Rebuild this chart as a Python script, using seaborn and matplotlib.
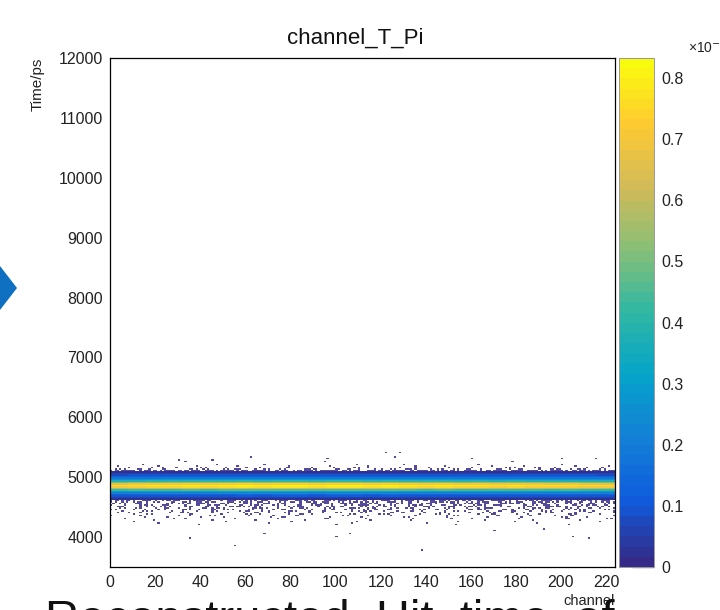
import numpy as np
import pandas as pd
import matplotlib
matplotlib.use("Agg")
import matplotlib.pyplot as plt
from matplotlib.colors import LinearSegmentedColormap, ListedColormap
from matplotlib.patches import Polygon
from matplotlib.ticker import MultipleLocator, FuncFormatter
import seaborn as sns

# ---------------- data ----------------
n_channels = 224
time_min, time_max, time_bin = 3500, 12000, 25

# band profile: density (x1e-3) per 25 ps time bin (lower edge)
band_time = [4625, 4650, 4675, 4700, 4725, 4750, 4775, 4800, 4825, 4850,
             4875, 4900, 4925, 4950, 4975, 5000, 5025, 5050, 5075]
band_value = [0.03, 0.06, 0.10, 0.15, 0.22, 0.32, 0.46, 0.63, 0.77, 0.82,
              0.72, 0.55, 0.40, 0.28, 0.19, 0.13, 0.09, 0.06, 0.03]

# relative gain per group of 8 channels
group_gain = [0.92, 0.95, 0.96, 0.97, 0.98, 0.97, 0.99, 1.00, 0.99, 1.00,
              1.00, 0.98, 1.00, 1.00, 0.99, 1.00, 0.98, 0.97, 0.98, 0.96,
              0.97, 0.95, 0.96, 0.95, 0.94, 0.95, 0.93, 0.92]

# sparse hits: one hex digit = 4 channels (bit mask), one row per time bin
speckle_time = [4600, 4575, 4550, 4525, 4500, 4475, 4450, 4425, 4400, 4375,
                4350, 4325, 4300, 4275, 4250, 4225, 4200,
                5100, 5125, 5150, 5175, 5200, 5250]
speckle_rows = [
    "b5a3c96e17d84f2a9c5e3b61d7a4c8f25e9b3a6d1c7e48b5f2a96d3c",
    "a52c9418d3b60e5a7214c9b3852d6a1e4c83b5a2970d4e1b6a38c52d",
    "4a1c8052b3d0691a4e2c0875a3b1d6094c2e81a5b3076d19c42a8e15",
    "8205a1c0431b9062d0a4185c2093e14a0b6218d05a3c0194e2065b18",
    "1c0492a0583106d4a0215c08b3014a62091d0385a204c1607b2190a4",
    "0a1408c21065a001b4208d01503a2c0916040a8213c0051a60290c41",
    "a0210480d1062a05108c02413090a6180250c4019a0320d10852a014",
    "0402a0108205004c1201a0830012d041062008a4010c30215080a201",
    "10840021a0040810c20500820a01400c6010280104a0210058020c01",
    "0020a0001800400a20010c40002801500040a20010600842001a0040",
    "80040002100a00040080300001402008010004a000180020040c0001",
    "0001004000802000010c000040010000280004000100020000a01000",
    "0200000840000100002000018000400002000100800004000030000a",
    "00001000000400008000020000001000040000000200001000008000",
    "00200000000010000000800000040000000000200000100000000040",
    "00000400000000000200000000100000000800000000000400000000",
    "00000000010000000000000008000000000000400000000000100000",
    "b7e5dafb6f3d7eb9fa6e5bd7f9ae3db7e6fb5da7e9bf3e7d5fa6ebd7",
    "2a0c41801a5029c08a1403b00c62048a1d0250a3081c46021b09a050",
    "0080210400a0100820030040100a2000810402008001500a04001020",
    "10000400020000800001000040002000010008000040010000020004",
    "00020000000100000800000000040000200000001000000000800000",
    "00000000400000000000000100000000000000000000200000000000",
]
speckle_value = 0.012  # x1e-3

# isolated hits far from the band (channel, time)
outlier_channel = [35, 55, 68, 100, 106, 138, 170, 205, 212, 192,
                   62, 122, 128, 126, 96, 160, 30, 45, 200, 215]
outlier_time = [3990, 3850, 4060, 4020, 4070, 3780, 4110, 4010, 3990, 4140,
                5330, 5420, 5400, 5330, 5310, 5300, 5290, 5280, 5300, 5320]

z_max = 0.833  # x1e-3, top of colour scale
z_ticks = [0, 0.1, 0.2, 0.3, 0.4, 0.5, 0.6, 0.7, 0.8]
x_ticks = [0, 20, 40, 60, 80, 100, 120, 140, 160, 180, 200, 220]
y_ticks = [4000, 5000, 6000, 7000, 8000, 9000, 10000, 11000, 12000]

# ---------------- build the histogram cells ----------------
rows_x, rows_y, rows_w, rows_kind = [], [], [], []
for t, v in zip(band_time, band_value):
    for ch in range(n_channels):
        rows_x.append(ch + 0.5)
        rows_y.append(t + time_bin / 2)
        rows_w.append(v * group_gain[ch // 8] * 1e-3)
        rows_kind.append("band")
for t, row in zip(speckle_time, speckle_rows):
    for k, c in enumerate(row):
        bits = int(c, 16)
        for b in range(4):
            if bits & (8 >> b):
                rows_x.append(4 * k + b + 0.5)
                rows_y.append(t + time_bin / 2)
                rows_w.append(speckle_value * 1e-3)
                rows_kind.append("hit")
for ch, t in zip(outlier_channel, outlier_time):
    rows_x.append(ch + 0.5)
    rows_y.append(t)
    rows_w.append(speckle_value * 1e-3)
    rows_kind.append("hit")
df = pd.DataFrame({"channel": rows_x, "time": rows_y, "w": rows_w, "kind": rows_kind})

x_edges = np.arange(0, n_channels + 1)
y_edges = np.arange(time_min, time_max + time_bin, time_bin)

# ROOT kBird palette
bird_r = [0.2082, 0.0592, 0.0780, 0.0232, 0.1802, 0.5301, 0.8186, 0.9956, 0.9764]
bird_g = [0.1664, 0.3599, 0.5041, 0.6419, 0.7178, 0.7492, 0.7328, 0.7862, 0.9832]
bird_b = [0.5293, 0.8684, 0.8385, 0.7914, 0.6425, 0.4662, 0.3499, 0.1968, 0.0539]
base = LinearSegmentedColormap.from_list("bird", list(zip(bird_r, bird_g, bird_b)))
n_levels = 50
cmap = ListedColormap(base(np.linspace(0, 1, n_levels)))

# ---------------- figure ----------------
sns.set_style("white")
plt.rcParams["font.family"] = ["Liberation Sans", "DejaVu Sans"]

W, H = 720, 610
fig = plt.figure(figsize=(W / 100, H / 100), dpi=100)
fx0, fx1, fy0, fy1 = 110, 615, 58, 567
ax = fig.add_axes([fx0 / W, 1 - fy1 / H, (fx1 - fx0) / W, (fy1 - fy0) / H])
cx0, cx1 = 619, 654
cax = fig.add_axes([cx0 / W, 1 - fy1 / H, (cx1 - cx0) / W, (fy1 - fy0) / H])

band = df[df["kind"] == "band"]
hits = df[df["kind"] == "hit"]
sns.histplot(x=band["channel"], y=band["time"], weights=band["w"],
             bins=[x_edges, y_edges], cmap=cmap, vmin=0, vmax=z_max * 1e-3,
             cbar=True, cbar_ax=cax, ax=ax)
sns.histplot(x=hits["channel"], y=hits["time"], weights=hits["w"],
             bins=[x_edges, y_edges], cmap=cmap, vmin=0, vmax=z_max * 1e-3,
             alpha=0.85, cbar=False, ax=ax)

ax.set_xlim(0, n_channels)
ax.set_ylim(time_min, time_max)
ax.set_xticks(x_ticks)
ax.set_yticks(y_ticks)
ax.xaxis.set_minor_locator(MultipleLocator(4))
ax.yaxis.set_minor_locator(MultipleLocator(200))
ax.tick_params(axis="both", which="both", direction="in", color="black",
               top=False, right=False, labelsize=11.5, labelcolor="#222222")
ax.tick_params(axis="y", which="major", length=19, width=0.8, pad=5)
ax.tick_params(axis="y", which="minor", length=9, width=0.8)
ax.tick_params(axis="x", which="major", length=8, width=0.8, pad=6)
ax.tick_params(axis="x", which="minor", length=4, width=0.8)
for s in ax.spines.values():
    s.set_visible(True)
    s.set_color("black")
    s.set_linewidth(0.9)
ax.set_xlabel("")
ax.set_ylabel("")
ax.set_facecolor("white")

# colour bar
cax.set_ylim(0, z_max * 1e-3)
cax.yaxis.set_ticks([v * 1e-3 for v in z_ticks])
cax.yaxis.set_major_formatter(FuncFormatter(lambda v, p: f"{v * 1e3:g}"))
cax.tick_params(axis="y", which="both", direction="in", length=16, width=0.9,
                color="#222222", labelsize=11.5, labelcolor="#222222", pad=5,
                right=True, left=False)
for s in cax.spines.values():
    s.set_visible(True)
    s.set_color("#999999")
    s.set_linewidth(0.6)
fig.text(688 / W, 1 - 47 / H, "×10$^{-3}$", ha="left", va="center",
         fontsize=10, color="#222222")

# titles
fig.text(355 / W, 1 - 38 / H, "channel_T_Pi", ha="center", va="center",
         fontsize=16, color="#111111")
fig.text(38 / W, 1 - fy0 / H, "Time/ps", rotation=90, ha="center", va="top",
         fontsize=11, color="#222222")
fig.text(fx1 / W, 1 - 601 / H, "channel", ha="right", va="center",
         fontsize=10.5, color="#222222")

# slide artefacts around the crop
fig.patches.append(Polygon([[0, 1 - 266 / H], [17 / W, 1 - 288 / H], [0, 1 - 310 / H]],
                           closed=True, transform=fig.transFigure,
                           facecolor="#0f6fc0", edgecolor="none"))
fig.text(45 / W, 1 - 633 / H, "Reconstructed  Hit  time  of", ha="left", va="baseline",
         fontsize=34, color="#111111")

fig.savefig("out.png", dpi=100, facecolor="white")
